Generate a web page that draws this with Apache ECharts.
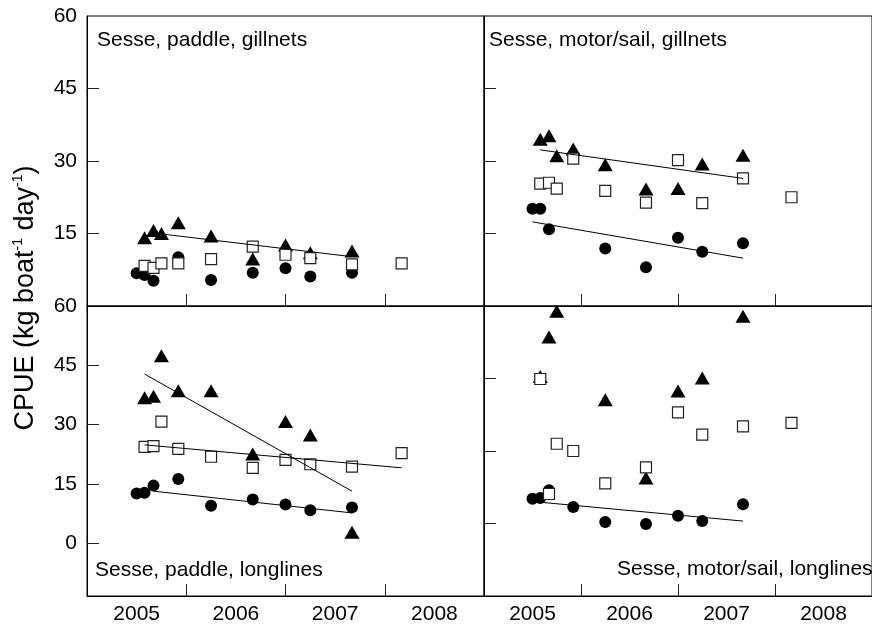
<!DOCTYPE html>
<html>
<head>
<meta charset="utf-8">
<script src="https://cdn.jsdelivr.net/npm/echarts@6/dist/echarts.min.js"></script>
<style>
html,body{margin:0;padding:0;background:#fff;}
#main{width:872px;height:628px;}
</style>
</head>
<body>
<div id="main"></div>
<script>
// sampling dates, decimal years
var sampleDates = [2005.5, 2005.58, 2005.67, 2005.75, 2005.92, 2006.25, 2006.67, 2007.0, 2007.25, 2007.67, 2008.17];

// Sesse, paddle, gillnets
var padGillCircle = [6.8, 6.4, 5.2, null, 10.1, 5.4, 6.9, 7.8, 6.1, 6.9, null];
var padGillSquare = [null, 8.3, 7.9, 8.8, 8.8, 9.7, 12.3, 10.6, 9.9, 8.6, 8.8];
var padGillTri = [null, 14.1, 15.6, 15.0, 17.2, 14.5, 9.7, 12.6, 11.0, 11.4, null];
var padGillTriFit = [[2005.75, 14.9], [2007.67, 10.2]];

// Sesse, motor/sail, gillnets
var motGillCircle = [20.1, 20.1, 15.9, null, null, 11.9, 8.0, 14.1, 11.2, 13.0, null];
var motGillSquare = [null, 25.3, 25.5, 24.3, 30.5, 23.8, 21.4, 30.2, 21.3, 26.4, 22.5];
var motGillTri = [null, 34.5, 35.2, 31.1, 32.5, 29.2, 24.2, 24.3, 29.4, 31.2, null];
var motGillTriFit = [[2005.58, 32.3], [2007.67, 26.4]];
var motGillCircleFit = [[2005.5, 17.4], [2007.67, 9.9]];

// Sesse, paddle, longlines
var padLongCircle = [12.6, 12.8, 14.6, null, 16.3, 9.5, 11.1, 9.8, 8.4, 9.1, null];
var padLongSquare = [null, 24.4, 24.6, 30.8, 23.9, 21.9, 19.1, 21.1, 20.0, 19.4, 22.8];
var padLongTri = [null, 36.8, 37.2, 47.4, 38.6, 38.6, 22.6, 30.8, 27.4, 2.8, null];
var padLongTriFit = [[2005.58, 42.8], [2007.67, 13.2]];
var padLongSquareFit = [[2005.58, 24.9], [2008.17, 19.1]];
var padLongCircleFit = [[2005.67, 13.2], [2007.67, 7.7]];

// Sesse, motor/sail, longlines
var motLongCircle = [20.1, 20.3, 21.9, null, 18.4, 15.3, 14.9, 16.6, 15.5, 19.0, null];
var motLongSquare = [null, 44.9, 21.1, 31.5, 30.0, 23.3, 26.6, 38.0, 33.4, 35.1, 35.8];
var motLongTri = [null, 45.4, 53.6, 58.9, null, 40.6, 24.4, 42.4, 45.1, 57.9, null];
var motLongCircleFit = [[2005.58, 19.4], [2007.67, 15.5]];

var yearTicks = [2006, 2007, 2008];
var yearLabels = [2005.5, 2006.5, 2007.5, 2008.5];
var cpueLabels = [0, 15, 30, 45, 60];
var cpueTicks = [15, 30, 45];

var panelTitles = ['Sesse, paddle, gillnets', 'Sesse, motor/sail, gillnets',
    'Sesse, paddle, longlines', 'Sesse, motor/sail, longlines'];

var FONT = "'Liberation Sans', Arial, Helvetica, sans-serif";

function pairs(vals) {
    var out = [];
    for (var i = 0; i < sampleDates.length; i++) {
        if (vals[i] !== null) out.push([sampleDates[i], vals[i]]);
    }
    return out;
}

var chart = echarts.init(document.getElementById('main'));

var grids = [
    {left: 87, top: 16, width: 397, height: 290},
    {left: 484, top: 16, width: 397, height: 290},
    {left: 87, top: 306, width: 397, height: 290},
    {left: 484, top: 306, width: 397, height: 290}
];
grids.forEach(function (g) {
    g.show = true;
    g.borderColor = '#000';
    g.borderWidth = 1;
    g.containLabel = false;
});

var xAxes = [], yAxes = [];
for (var k = 0; k < 4; k++) {
    var bottomRow = k >= 2;
    xAxes.push({
        type: 'value', gridIndex: k, min: 2005, max: 2009,
        axisLine: {show: true, onZero: false, lineStyle: {color: '#000', width: 1}},
        axisTick: {show: true, inside: true, length: 12, customValues: yearTicks,
            lineStyle: {color: '#222', width: 1}},
        axisLabel: {show: bottomRow, customValues: yearLabels, margin: 8,
            fontSize: 21, color: '#000', fontFamily: FONT,
            formatter: function (v) { return String(Math.floor(v)); }},
        splitLine: {show: false}
    });
    var leftCol = (k % 2) === 0;
    var yMin = (k === 2) ? -13.3 : 0;
    yAxes.push({
        type: 'value', gridIndex: k, min: yMin, max: 60,
        axisLine: {show: true, onZero: false, lineStyle: {color: '#000', width: 1}},
        axisTick: {show: true, inside: true, length: 12,
            customValues: (k === 2) ? [0, 15, 30, 45] : cpueTicks,
            lineStyle: {color: '#222', width: 1}},
        axisLabel: {show: leftCol, margin: 10, fontSize: 21, color: '#000', fontFamily: FONT,
            customValues: (k === 0) ? cpueLabels.slice(1) : cpueLabels},
        splitLine: {show: false}
    });
}

var panelData = [
    {c: padGillCircle, s: padGillSquare, t: padGillTri, fits: [padGillTriFit]},
    {c: motGillCircle, s: motGillSquare, t: motGillTri, fits: [motGillTriFit, motGillCircleFit]},
    {c: padLongCircle, s: padLongSquare, t: padLongTri, fits: [padLongTriFit, padLongSquareFit, padLongCircleFit]},
    {c: motLongCircle, s: motLongSquare, t: motLongTri, fits: [motLongCircleFit]}
];

var series = [];
panelData.forEach(function (p, i) {
    series.push({
        type: 'scatter', xAxisIndex: i, yAxisIndex: i, data: pairs(p.c),
        symbol: 'circle', symbolSize: 12, z: 2,
        itemStyle: {color: '#000', opacity: 1}
    });
    series.push({
        type: 'scatter', xAxisIndex: i, yAxisIndex: i, data: pairs(p.t),
        symbol: 'triangle', symbolSize: [15, 13], z: 3,
        itemStyle: {color: '#000', opacity: 1}
    });
    series.push({
        type: 'scatter', xAxisIndex: i, yAxisIndex: i, data: pairs(p.s),
        symbol: 'rect', symbolSize: 11, z: 4,
        itemStyle: {color: '#fff', borderColor: '#222', borderWidth: 1.2, opacity: 1}
    });
    p.fits.forEach(function (f) {
        series.push({
            type: 'line', xAxisIndex: i, yAxisIndex: i, data: f,
            symbol: 'none', z: 5, silent: true,
            lineStyle: {color: '#000', width: 1}
        });
    });
});

var titlePos = [
    {x: 97, y: 40, align: 'left'},
    {x: 489, y: 40, align: 'left'},
    {x: 95, y: 570, align: 'left'},
    {x: 617, y: 569, align: 'left'}
];
var graphics = panelTitles.map(function (t, i) {
    return {
        type: 'text', x: titlePos[i].x, y: titlePos[i].y, z: 10,
        style: {text: t, fill: '#000', font: '21px ' + FONT,
            align: titlePos[i].align, verticalAlign: 'middle'}
    };
});
graphics.push({
    type: 'text', x: 26, y: 298, rotation: Math.PI / 2, z: 10,
    style: {
        text: '{n|CPUE (kg boat}{s|-1}{n| day}{s|-1}{n|)}',
        align: 'center', verticalAlign: 'middle', fill: '#000',
        rich: {
            n: {fontSize: 27, fontFamily: FONT, fill: '#000', lineHeight: 30},
            s: {fontSize: 14, fontFamily: FONT, fill: '#000', verticalAlign: 'top', lineHeight: 30}
        }
    }
});

chart.setOption({
    animation: false,
    backgroundColor: '#fff',
    grid: grids,
    xAxis: xAxes,
    yAxis: yAxes,
    series: series,
    graphic: graphics
});
</script>
</body>
</html>
